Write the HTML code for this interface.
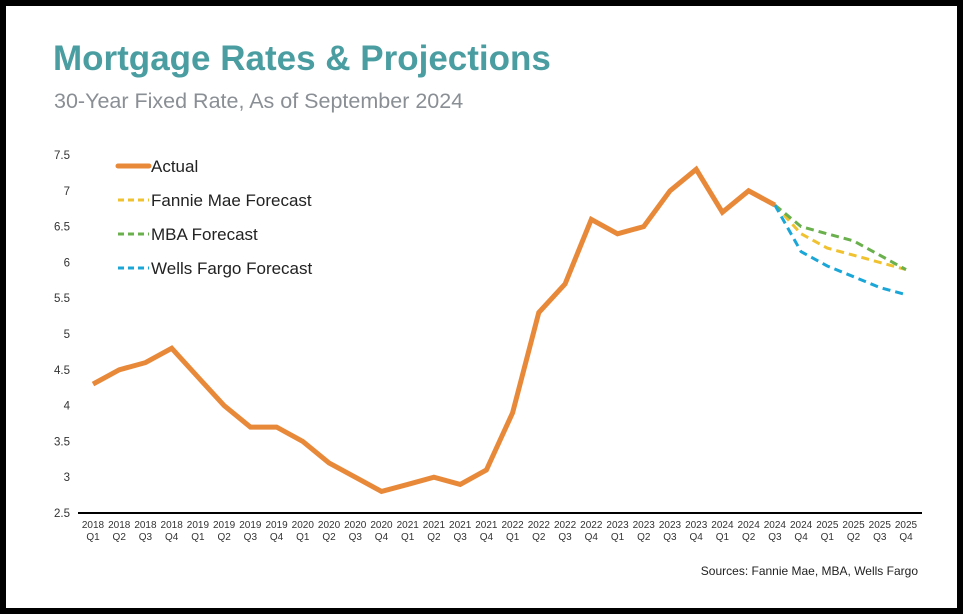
<!DOCTYPE html>
<html><head><meta charset="utf-8">
<style>
html,body{margin:0;padding:0;background:#000;}
#frame{position:absolute;left:0;top:0;width:963px;height:614px;background:#000;}
#card{position:absolute;left:6px;top:6px;width:951px;height:602px;background:#fff;}
svg text{font-family:"Liberation Sans",Arial,sans-serif;}
</style></head>
<body>
<div id="frame">
<div id="card"></div>
<svg id="chart" width="963" height="614" style="position:absolute;left:0;top:0">
<text x="53" y="70" font-size="35" font-weight="bold" fill="#4a9ea1">Mortgage Rates &amp; Projections</text>
<text x="54" y="108" font-size="21.5" fill="#8a8f95">30-Year Fixed Rate, As of September 2024</text>
<text x="918" y="575" font-size="12" fill="#222" text-anchor="end">Sources: Fannie Mae, MBA, Wells Fargo</text>
<g id="axes"></g>
<g id="series"></g>
<g id="legend"></g>
</svg>
</div>
<script>
const categories = ["2018 Q1","2018 Q2","2018 Q3","2018 Q4","2019 Q1","2019 Q2","2019 Q3","2019 Q4","2020 Q1","2020 Q2","2020 Q3","2020 Q4","2021 Q1","2021 Q2","2021 Q3","2021 Q4","2022 Q1","2022 Q2","2022 Q3","2022 Q4","2023 Q1","2023 Q2","2023 Q3","2023 Q4","2024 Q1","2024 Q2","2024 Q3","2024 Q4","2025 Q1","2025 Q2","2025 Q3","2025 Q4"];
const actual = [4.3,4.5,4.6,4.8,4.4,4.0,3.7,3.7,3.5,3.2,3.0,2.8,2.9,3.0,2.9,3.1,3.9,5.3,5.7,6.6,6.4,6.5,7.0,7.3,6.7,7.0,6.8];
const forecastStart = 26;
const fannieMae = [6.8,6.4,6.2,6.1,6.0,5.9];
const mba = [6.8,6.5,6.4,6.3,6.1,5.9];
const wellsFargo = [6.8,6.15,5.95,5.8,5.65,5.55];
const yTicks = [2.5,3,3.5,4,4.5,5,5.5,6,6.5,7,7.5];

const NS="http://www.w3.org/2000/svg";
const x0=93, dx=(906-93)/31, yMin=2.5, yMax=7.5, yBot=513, yTop=155;
function xs(i){return x0+i*dx;}
function ys(v){return yBot-(v-yMin)/(yMax-yMin)*(yBot-yTop);}
function mk(tag,attrs,parent){const e=document.createElementNS(NS,tag);for(const k in attrs)e.setAttribute(k,attrs[k]);parent.appendChild(e);return e;}
const axes=document.getElementById('axes'), series=document.getElementById('series'), legend=document.getElementById('legend');

const xl=mk('line',{x1:78,x2:922,y1:yBot,y2:yBot,stroke:'#000','stroke-width':2},axes);


yTicks.forEach(v=>{
  const t=mk('text',{x:70,y:ys(v)+4,'font-size':11.5,fill:'#333','text-anchor':'end'},axes);
  t.textContent=String(v);
  
  
});
categories.forEach((c,i)=>{
  const p=c.split(' ');
  const t=mk('text',{x:xs(i),y:528,'font-size':10,fill:'#333','text-anchor':'middle'},axes);
  t.textContent=p[0];
  
  
  const t2=mk('text',{x:xs(i),y:540,'font-size':10,fill:'#333','text-anchor':'middle'},axes);
  t2.textContent=p[1];
  
  
});

function pts(arr,off){return arr.map((v,i)=>xs(i+off).toFixed(1)+','+ys(v).toFixed(1)).join(' ');}
const fm=mk('polyline',{points:pts(fannieMae,forecastStart),fill:'none',stroke:'#f0c230','stroke-width':3,'stroke-dasharray':'8 5'},series);


const mb=mk('polyline',{points:pts(mba,forecastStart),fill:'none',stroke:'#6ab04c','stroke-width':3,'stroke-dasharray':'8 5'},series);


const wf=mk('polyline',{points:pts(wellsFargo,forecastStart),fill:'none',stroke:'#1aa7d8','stroke-width':3,'stroke-dasharray':'8 5'},series);


const ac=mk('polyline',{points:pts(actual,0),fill:'none',stroke:'#e8893a','stroke-width':5,'stroke-linejoin':'miter'},series);



const leg=[["Actual","#e8893a",5,null],["Fannie Mae Forecast","#f0c230",3,"6 4"],["MBA Forecast","#6ab04c",3,"6 4"],["Wells Fargo Forecast","#1aa7d8",3,"6 4"]];
leg.forEach((l,i)=>{
  const y=166+i*34;
  const g=mk('g',{},legend);
  
  
  const a={x1:118,x2:149,y1:y,y2:y,stroke:l[1],'stroke-width':l[2],'stroke-linecap':l[3]?'butt':'round'};
  if(l[3])a['stroke-dasharray']=l[3];
  mk('line',a,g);
  const t=mk('text',{x:151,y:y+6,'font-size':17,fill:'#222'},g);
  t.textContent=l[0];
});
</script>
</body></html>
